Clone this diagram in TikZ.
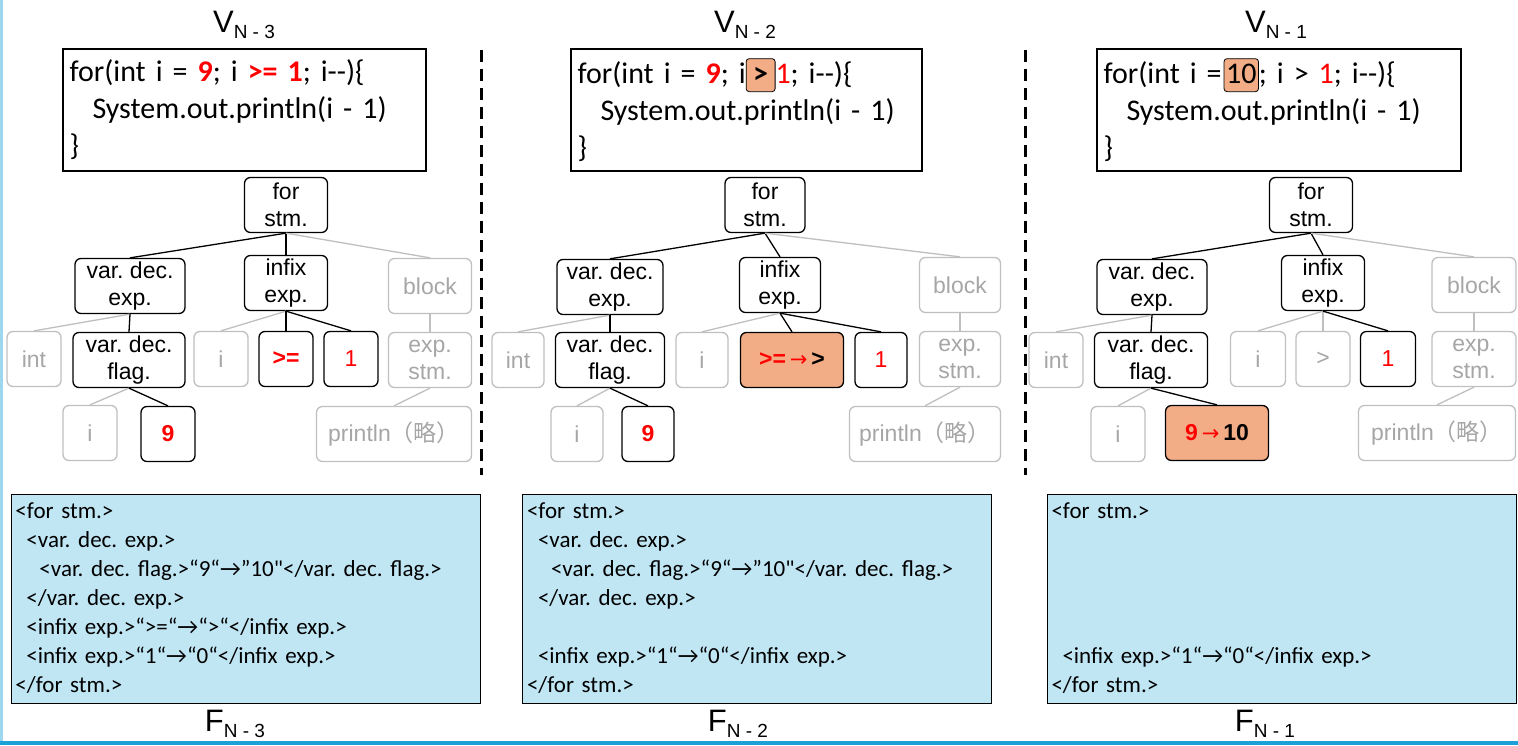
\documentclass[tikz,border=0pt]{standalone}
\usepackage{fontspec}
\setmainfont{Liberation Sans}
\newfontfamily\codefont{Carlito}
\newfontfamily\cjkfont{Noto Sans CJK SC}
\newfontfamily\arrowfont{DejaVu Sans}
\usetikzlibrary{positioning}
\definecolor{hotfill}{RGB}{242,173,134}
\definecolor{offgrey}{RGB}{191,191,191}
\definecolor{offtext}{RGB}{166,166,166}
\definecolor{flatblue}{RGB}{192,230,244}
\definecolor{edgeblue}{RGB}{27,161,216}
\definecolor{paleblue}{RGB}{157,215,239}
\newcommand{\subidx}[1]{\raisebox{-6pt}{\fontsize{19}{19}\selectfont #1}}
\newcommand{\hlcode}[1]{\tikz[baseline=(hb.base)]\node[hlnode] (hb) {#1};}
\newcommand{\ra}{{\arrowfont\fontsize{21}{21}\selectfont →}}
\frenchspacing

\begin{document}
\begin{tikzpicture}[x=1pt, y=-1pt,
  tnode/.style={rounded corners=6pt, line width=1.3pt, align=center, inner sep=0pt,
    minimum height=55pt, font=\fontsize{23}{27}\selectfont},
  live/.style={tnode, draw=black},
  faded/.style={tnode, draw=offgrey, text=offtext},
  changed/.style={live, fill=hotfill},
  link/.style={line width=1.3pt},
  dim/.style={line width=1.3pt, offgrey},
  hlnode/.style={draw, fill=hotfill, rounded corners=3pt, line width=0.8pt,
    minimum width=0pt, minimum height=0pt, text width={},
    inner xsep=2pt, inner ysep=4pt, text height=21pt, text depth=4pt},
  codebox/.style={draw, line width=2.8pt, minimum height=122pt, align=left,
    inner xsep=5pt, font=\codefont\fontsize{30}{37}\selectfont},
  xmlbox/.style={draw, line width=1pt, fill=flatblue, minimum width=469pt,
    minimum height=209pt, text width=460pt, align=left, inner xsep=4pt,
    font=\codefont\fontsize{23}{29}\selectfont},
  ttl/.style={anchor=base, font=\fontsize{31}{34}\selectfont}]
  \useasboundingbox (0,0) rectangle (1518,745);
  \draw[paleblue, line width=3pt] (1,0) -- (1,745);
  \draw[edgeblue, line width=4pt] (0,743) -- (1518,743);
  \foreach \x in {481,1025}
    \draw[line width=3pt, dash pattern=on 12pt off 7pt] (\x,50) -- (\x,475);

  % titles
  \node[ttl] (v1) at (244,32) {V\subidx{N - 3}};
  \node[ttl] (v2) at (745,32) {V\subidx{N - 2}};
  \node[ttl] (v3) at (1276,32) {V\subidx{N - 1}};
  \node[ttl] (fn1) at (235,731) {F\subidx{N - 3}};
  \node[ttl] (fn2) at (738,731) {F\subidx{N - 2}};
  \node[ttl] (fn3) at (1265,731) {F\subidx{N - 1}};

  % code
  \node[codebox, minimum width=363pt, text width=350pt] (code1) at (244.5,110)
    {for(int i = \textcolor{red}{\textbf{9}}; i \textcolor{red}{\textbf{>= 1}}; i-{}-)\{\\
     \hspace*{23pt}System.out.println(i - 1)\\ \}};
  \node[codebox, minimum width=351pt, text width=338pt] (code2) at (746.5,110)
    {for(int i = \textcolor{red}{\textbf{9}}; i\hlcode{\textbf{\,>\,}}\textcolor{red}{1}; i-{}-)\{\\
     \hspace*{23pt}System.out.println(i - 1)\\ \}};
  \node[codebox, minimum width=364pt, text width=351pt] (code3) at (1279,110)
    {for(int i =\hspace{2pt}\hlcode{10}; i > \textcolor{red}{1}; i-{}-)\{\\
     \hspace*{23pt}System.out.println(i - 1)\\ \}};

  % tree N-3
  \node[live, minimum width=83pt] (for1) at (286,205) {for\\stm.};
  \node[live, minimum width=110pt] (vde1) at (130,286) {var. dec.\\exp.};
  \node[live, minimum width=83pt] (inf1) at (286,283) {infix\\exp.};
  \node[faded, minimum width=83pt] (blk1) at (430,286) {block};
  \node[faded, minimum width=54pt] (int1) at (34,359) {int};
  \node[live, minimum width=112pt] (vdf1) at (129,360) {var. dec.\\flag.};
  \node[faded, minimum width=54pt] (ivar1) at (221,359) {i};
  \node[live, minimum width=54pt, text=red] (op1) at (286,359) {\textbf{>=}};
  \node[live, minimum width=54pt, text=red] (one1) at (351,359) {1};
  \node[faded, minimum width=83pt] (exs1) at (430,360) {exp.\\stm.};
  \node[faded, minimum width=54pt] (iflg1) at (90,433) {i};
  \node[live, minimum width=54pt, text=red] (nine1) at (168,434) {\textbf{9}};
  \node[faded, minimum width=155pt] (prn1) at (394,434) {println{\cjkfont（略）}};

  % tree N-2
  \node[live, minimum width=80pt] (for2) at (765,205) {for\\stm.};
  \node[live, minimum width=106pt] (vde2) at (610,287) {var. dec.\\exp.};
  \node[live, minimum width=81pt] (inf2) at (780,285) {infix\\exp.};
  \node[faded, minimum width=81pt] (blk2) at (960,285) {block};
  \node[faded, minimum width=52pt] (int2) at (518,360) {int};
  \node[live, minimum width=109pt] (vdf2) at (610,360) {var. dec.\\flag.};
  \node[faded, minimum width=52pt] (ivar2) at (702,360) {i};
  \node[changed, minimum width=103pt] (op2) at (792,360)
    {\textcolor{red}{\textbf{>=}\,\ra}\,\textbf{>}};
  \node[live, minimum width=52pt, text=red] (one2) at (881,360) {1};
  \node[faded, minimum width=81pt] (exs2) at (960,359) {exp.\\stm.};
  \node[faded, minimum width=52pt] (iflg2) at (577,434) {i};
  \node[live, minimum width=52pt, text=red] (nine2) at (648,434) {\textbf{9}};
  \node[faded, minimum width=151pt] (prn2) at (925,434) {println{\cjkfont（略）}};

  % tree N-1
  \node[live, minimum width=83pt] (for3) at (1311,205) {for\\stm.};
  \node[live, minimum width=110pt] (vde3) at (1152,287) {var. dec.\\exp.};
  \node[live, minimum width=83pt] (inf3) at (1323,283) {infix\\exp.};
  \node[faded, minimum width=84pt] (blk3) at (1474,285) {block};
  \node[faded, minimum width=54pt] (int3) at (1056,360) {int};
  \node[live, minimum width=113pt] (vdf3) at (1151,360) {var. dec.\\flag.};
  \node[faded, minimum width=55pt] (ivar3) at (1258,359) {i};
  \node[faded, minimum width=54pt] (op3) at (1323,359) {>};
  \node[live, minimum width=55pt, text=red] (one3) at (1388,359) {1};
  \node[faded, minimum width=84pt] (exs3) at (1474,359) {exp.\\stm.};
  \node[faded, minimum width=54pt] (iflg3) at (1118,434) {i};
  \node[changed, minimum width=103pt] (nine3) at (1217,433)
    {\textcolor{red}{\textbf{9}\,\ra}\,\textbf{10}};
  \node[faded, minimum width=157pt] (prn3) at (1437,433) {println{\cjkfont（略）}};

  \foreach \p/\opl in {1/link, 2/link, 3/dim} {
    \draw[link] (for\p.south) -- (vde\p.north);
    \draw[link] (for\p.south) -- (inf\p.north);
    \draw[dim] (for\p.south) -- (blk\p.north);
    \draw[dim] (vde\p.south) -- (int\p.north);
    \draw[link] (vde\p.south) -- (vdf\p.north);
    \draw[dim] (inf\p.south) -- (ivar\p.north);
    \draw[\opl] (inf\p.south) -- (op\p.north);
    \draw[link] (inf\p.south) -- (one\p.north);
    \draw[dim] (blk\p.south) -- (exs\p.north);
    \draw[dim] (exs\p.south) -- (prn\p.north);
    \draw[dim] (vdf\p.south) -- (iflg\p.north);
    \draw[link] (vdf\p.south) -- (nine\p.north);
  }

  % flattened changes
  \node[xmlbox] (xml1) at (245.5,598.5) {<for stm.>\\
    \hspace*{11pt}<var. dec. exp.>\\
    \hspace*{24pt}<var. dec. flag.>“9“→”10"</var. dec. flag.>\\
    \hspace*{11pt}</var. dec. exp.>\\
    \hspace*{11pt}<infix exp.>“>=“→“>“</infix exp.>\\
    \hspace*{11pt}<infix exp.>“1“→“0“</infix exp.>\\
    </for stm.>};
  \node[xmlbox] (xml2) at (757,598.5) {<for stm.>\\
    \hspace*{11pt}<var. dec. exp.>\\
    \hspace*{24pt}<var. dec. flag.>“9“→”10"</var. dec. flag.>\\
    \hspace*{11pt}</var. dec. exp.>\\
    \mbox{}\\
    \hspace*{11pt}<infix exp.>“1“→“0“</infix exp.>\\
    </for stm.>};
  \node[xmlbox] (xml3) at (1281.5,598.5) {<for stm.>\\
    \mbox{}\\ \mbox{}\\ \mbox{}\\ \mbox{}\\
    \hspace*{11pt}<infix exp.>“1“→“0“</infix exp.>\\
    </for stm.>};
\end{tikzpicture}
\end{document}
